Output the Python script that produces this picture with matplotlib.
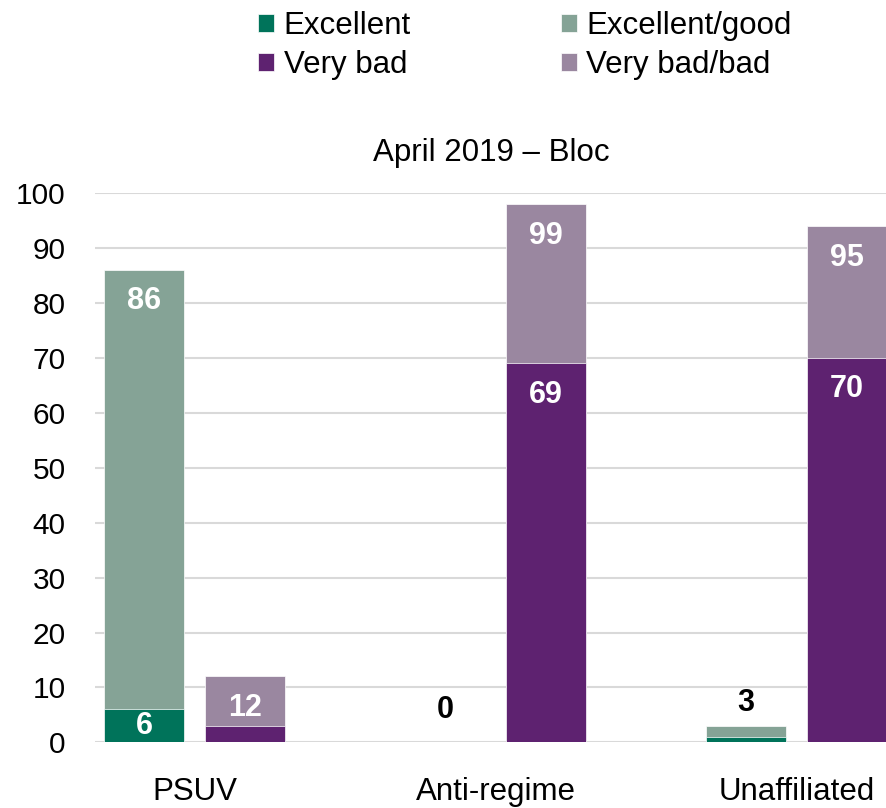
import numpy as np
import matplotlib
matplotlib.use('Agg')
import matplotlib.pyplot as plt

plt.rcParams['font.family'] = ['Liberation Sans', 'DejaVu Sans']

# Werte
gruppen = ['PSUV', 'Anti-regime', 'Unaffiliated']
excellent = [6, 0, 1]
excellent_good = [86, 0, 3]
very_bad = [3, 69, 70]
very_bad_bad = [12, 98, 94]

# Beschriftungen, wie sie im Bild stehen ('' = keine)
lab_excellent = ['6', '', '']
lab_excellent_good = ['86', '0', '3']
lab_very_bad = ['', '69', '70']
lab_very_bad_bad = ['12', '99', '95']

farbe_exc = '#00735a'
farbe_exc_good = '#85a396'
farbe_vbad = '#5e2270'
farbe_vbad_bad = '#9a87a0'

x = np.arange(len(gruppen))
versatz = 0.168
breite = 0.2675

fig = plt.figure(figsize=(8.87, 8.08), dpi=100)
ax = fig.add_axes([95 / 887, (808 - 742.3) / 808, 1 - 95 / 887, 549 / 808])

b_eg = ax.bar(x - versatz, excellent_good, breite, color=farbe_exc_good,
              edgecolor='white', linewidth=0.5, zorder=2)
b_e = ax.bar(x - versatz, excellent, breite, color=farbe_exc,
             edgecolor='white', linewidth=0.5, zorder=3)
b_vbb = ax.bar(x + versatz, very_bad_bad, breite, color=farbe_vbad_bad,
               edgecolor='white', linewidth=0.5, zorder=2)
b_vb = ax.bar(x + versatz, very_bad, breite, color=farbe_vbad,
              edgecolor='white', linewidth=0.5, zorder=3)


def beschriften(balken, texte):
    for rect, txt in zip(balken, texte):
        if txt == '':
            continue
        xm = rect.get_x() + rect.get_width() / 2
        h = rect.get_height()
        if h >= 5:
            # innen, oben
            ax.text(xm, h - min(5.7, h / 2), txt, ha='center', va='center',
                    color='white', fontsize=22, fontweight='bold', zorder=4)
        else:
            # außen, über dem Balken
            ax.text(xm, max(h, 1.7) + 1.5, txt, ha='center', va='bottom',
                    color='black', fontsize=22, fontweight='bold', zorder=4)


beschriften(b_e, lab_excellent)
beschriften(b_eg, lab_excellent_good)
beschriften(b_vb, lab_very_bad)
beschriften(b_vbb, lab_very_bad_bad)

ax.set_ylim(0, 100)
ax.set_xlim((95 - 194.5) / 301, (887 - 194.5) / 301)
ax.set_yticks(np.arange(0, 101, 10))
ax.set_xticks(x)
ax.set_xticklabels(gruppen, fontsize=22.5)
ax.tick_params(axis='y', length=0, pad=21, labelsize=21.5)
ax.tick_params(axis='x', length=0, pad=25)
ax.grid(axis='y', color='#d9d9d9', linewidth=1.5, zorder=0)
ax.set_axisbelow(True)
for s in ax.spines.values():
    s.set_visible(False)

fig.text(491 / 887, 1 - 153 / 808, 'April 2019 \u2013 Bloc', ha='center',
         va='center', fontsize=22.5)

fig.legend([b_e, b_vb, b_eg, b_vbb],
           ['Excellent', 'Very bad', 'Excellent/good', 'Very bad/bad'],
           ncol=2, loc='upper left', bbox_to_anchor=(258 / 887, 1 - 11 / 808),
           frameon=False, fontsize=22.5, handlelength=0.52, handleheight=0.52,
           handletextpad=0.3, columnspacing=4.8, labelspacing=0.3,
           borderpad=0, borderaxespad=0)

fig.savefig('out.png', dpi=100)
